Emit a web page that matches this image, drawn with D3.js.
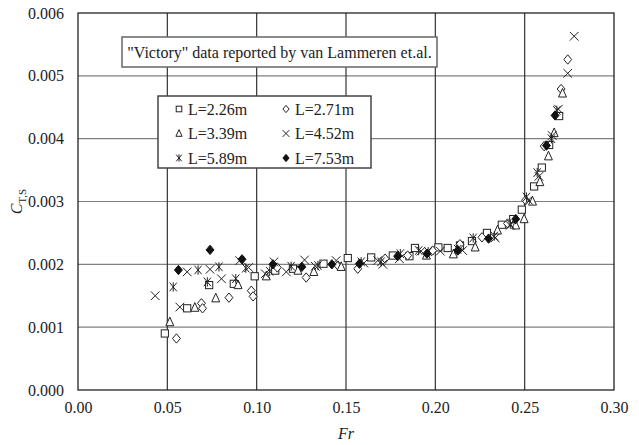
<!DOCTYPE html>
<html>
<head>
<meta charset="utf-8">
<script src="https://cdn.jsdelivr.net/npm/d3@7"></script>
<style>
  body { margin: 0; background: #fff; }
</style>
</head>
<body>
<div class="chart"></div>
<script>
// values (Fr, C_T,S)
var fr226 = [0.0486,0.0611,0.0734,0.0872,0.0989,0.1104,0.1203,0.1374,0.151,0.1641,0.1762,0.1855,0.1886,0.2017,0.2069,0.2138,0.2205,0.2289,0.2372,0.2436,0.2484,0.2553,0.2596,0.2637,0.2693];
var ct226 = [0.00090,0.00130,0.00167,0.00169,0.00181,0.00190,0.00193,0.00201,0.00210,0.00211,0.00214,0.00213,0.00226,0.00227,0.00226,0.00230,0.00237,0.00250,0.00263,0.00272,0.00287,0.00324,0.00354,0.00390,0.00436];

var fr271 = [0.0551,0.0691,0.0697,0.0845,0.097,0.098,0.1115,0.1277,0.1455,0.1566,0.1719,0.1845,0.1985,0.2138,0.2261,0.2404,0.2505,0.2609,0.2704,0.2741];
var ct271 = [0.00082,0.00138,0.00130,0.00147,0.00158,0.00149,0.00195,0.00179,0.00198,0.00193,0.00209,0.00214,0.00222,0.00232,0.00243,0.00265,0.00302,0.00388,0.00479,0.00526];

var fr339 = [0.0514,0.0654,0.0771,0.0896,0.1054,0.1231,0.1320,0.1473,0.1950,0.2101,0.2223,0.2348,0.245,0.2497,0.2544,0.2585,0.2633,0.2665,0.2712];
var ct339 = [0.00108,0.00131,0.00146,0.00167,0.00181,0.00190,0.00188,0.00196,0.00214,0.00216,0.00227,0.00254,0.00262,0.00272,0.00300,0.00331,0.00372,0.00409,0.00472];

var fr452 = [0.0432,0.0570,0.0611,0.0739,0.0803,0.0905,0.0955,0.1048,0.1097,0.1166,0.1268,0.1328,0.1445,0.1600,0.1678,0.1706,0.1799,0.1920,0.2028,0.2153,0.2335,0.2418,0.2521,0.2580,0.2654,0.2689,0.2741,0.2777];
var ct452 = [0.00150,0.00132,0.00188,0.00192,0.00177,0.00206,0.00195,0.00185,0.00204,0.00188,0.00207,0.00197,0.00206,0.00202,0.00206,0.00200,0.00209,0.00221,0.00221,0.00222,0.00242,0.00262,0.00302,0.00340,0.00405,0.00447,0.00504,0.00563];

var fr589 = [0.0533,0.0672,0.0724,0.0789,0.0883,0.0939,0.1073,0.1193,0.1343,0.1585,0.1696,0.1804,0.1907,0.1960,0.2125,0.2212,0.2330,0.2420,0.2510,0.2570,0.2650,0.2680];
var ct589 = [0.00164,0.00191,0.00172,0.00196,0.00177,0.00194,0.00189,0.00197,0.00198,0.00204,0.00204,0.00217,0.00222,0.00220,0.00224,0.00242,0.00245,0.00264,0.00307,0.00346,0.00400,0.00445];

var fr753 = [0.0562,0.0739,0.0918,0.1091,0.1253,0.1421,0.1575,0.1789,0.1953,0.2125,0.2298,0.2450,0.2622,0.2670];
var ct753 = [0.00191,0.00223,0.00208,0.00200,0.00196,0.00200,0.00201,0.00213,0.00217,0.00222,0.00241,0.00272,0.00389,0.00437];

var seriesNames = ["L=2.26m","L=2.71m","L=3.39m","L=4.52m","L=5.89m","L=7.53m"];
var xTicks = [0,0.05,0.10,0.15,0.20,0.25,0.30];
var yTicks = [0,0.001,0.002,0.003,0.004,0.005,0.006];
var titleText = "\"Victory\" data reported by van Lammeren et.al.";

function drawChart() {
  var w = 639, h = 445;
  var padL = 78, padR = 614, padT = 13, padB = 390;
  var serif = "Liberation Serif";

  var svg = d3.select(".chart").append("svg")
      .attr("width", w)
      .attr("height", h);

  var xScale = d3.scaleLinear().domain([0, 0.30]).range([padL, padR]);
  var yScale = d3.scaleLinear().domain([0, 0.006]).range([padB, padT]);

  // grid
  svg.append("g").selectAll("line").data(yTicks.slice(1, -1)).enter().append("line")
      .attr("x1", padL).attr("x2", padR)
      .attr("y1", d => yScale(d)).attr("y2", d => yScale(d))
      .attr("stroke", "#808080").attr("stroke-width", 1.2);
  svg.append("g").selectAll("line").data(xTicks.slice(1, -1)).enter().append("line")
      .attr("y1", padT).attr("y2", padB)
      .attr("x1", d => xScale(d)).attr("x2", d => xScale(d))
      .attr("stroke", "#333").attr("stroke-width", 1.2);

  // axes
  var xAxis = d3.axisBottom(xScale).tickValues(xTicks).tickFormat(d3.format(".2f")).tickSize(0).tickPadding(12);
  var yAxis = d3.axisLeft(yScale).tickValues(yTicks).tickFormat(d3.format(".3f")).tickSize(0).tickPadding(14);
  svg.append("g").attr("transform", `translate(0,${padB})`).call(xAxis)
    .call(g => { g.select(".domain").remove(); g.selectAll("text").style("font-family", serif).style("font-size", "16px").attr("fill", "#222"); });
  svg.append("g").attr("transform", `translate(${padL},0)`).call(yAxis)
    .call(g => { g.select(".domain").remove(); g.selectAll("text").style("font-family", serif).style("font-size", "16px").attr("fill", "#222"); });

  svg.append("rect")
      .attr("x", padL).attr("y", padT)
      .attr("width", padR - padL).attr("height", padB - padT)
      .attr("fill", "none").attr("stroke", "#111").attr("stroke-width", 1.2);

  // axis titles
  svg.append("text")
      .attr("x", xScale(0.15)).attr("y", 439)
      .attr("text-anchor", "middle").attr("fill", "#222")
      .style("font-family", serif).style("font-size", "16px").style("font-style", "italic")
      .text("Fr");
  var yl = svg.append("text")
      .attr("transform", `translate(22,${yScale(0.003)}) rotate(-90)`)
      .attr("text-anchor", "middle").attr("fill", "#222")
      .style("font-family", serif).style("font-size", "16px");
  yl.append("tspan").style("font-style", "italic").text("C");
  yl.append("tspan").attr("dy", 4).style("font-size", "11px").text("T,S");

  // markers
  var symbols = {
    "L=2.26m": function(g, s) { g.append("rect").attr("x", -s).attr("y", -s).attr("width", 2*s).attr("height", 2*s).attr("fill", "#fff").attr("stroke", "#222"); },
    "L=2.71m": function(g, s) { g.append("path").attr("d", `M0,${-s*1.3}L${s*1.1},0L0,${s*1.3}L${-s*1.1},0Z`).attr("fill", "#fff").attr("stroke", "#222"); },
    "L=3.39m": function(g, s) { g.append("path").attr("d", `M0,${-s*1.4}L${s*1.1},${s}L${-s*1.1},${s}Z`).attr("fill", "#fff").attr("stroke", "#222"); },
    "L=4.52m": function(g, s) { g.append("path").attr("d", `M${-s*1.2},${-s*1.2}L${s*1.2},${s*1.2}M${s*1.2},${-s*1.2}L${-s*1.2},${s*1.2}`).attr("fill", "none").attr("stroke", "#222"); },
    "L=5.89m": function(g, s) { g.append("path").attr("d", `M${-s},${-s*1.2}L${s},${s*1.2}M${s},${-s*1.2}L${-s},${s*1.2}M0,${-s*1.3}L0,${s*1.3}`).attr("fill", "none").attr("stroke", "#222"); },
    "L=7.53m": function(g, s) { g.append("path").attr("d", `M0,${-s*1.3}L${s*1.1},0L0,${s*1.3}L${-s*1.1},0Z`).attr("fill", "#111").attr("stroke", "#111"); }
  };

  var data = [
    [seriesNames[0], fr226, ct226],
    [seriesNames[1], fr271, ct271],
    [seriesNames[2], fr339, ct339],
    [seriesNames[3], fr452, ct452],
    [seriesNames[4], fr589, ct589],
    [seriesNames[5], fr753, ct753]
  ];

  data.forEach(function(sr) {
    var pts = sr[1].map((f, i) => ({fr: f, ct: sr[2][i]}));
    svg.append("g").selectAll("g").data(pts).enter().append("g")
      .attr("transform", d => `translate(${xScale(d.fr)},${yScale(d.ct)})`)
      .each(function() { symbols[sr[0]](d3.select(this), 3.6); })
      .selectAll("*").attr("stroke-width", 1);
  });

  // title box
  svg.append("rect")
      .attr("x", 122).attr("y", 37).attr("width", 315).attr("height", 30)
      .attr("fill", "#fff").attr("stroke", "#666").attr("stroke-width", 1.5);
  svg.append("text")
      .attr("x", 279.5).attr("y", 57.5)
      .attr("text-anchor", "middle").attr("fill", "#222")
      .style("font-family", serif).style("font-size", "16px")
      .text(titleText);

  // legend
  var lg = svg.append("g").attr("class", "gLegend");
  lg.append("rect")
      .attr("x", 158).attr("y", 96).attr("width", 213).attr("height", 72)
      .attr("fill", "#fff").attr("stroke", "#444").attr("stroke-width", 1.5);
  var legend = lg.selectAll(".legend").data(seriesNames).enter().append("g")
      .attr("class", "legend")
      .attr("transform", (d, i) => `translate(${i % 2 ? 286 : 179},${109 + Math.floor(i / 2) * 24.5})`);
  legend.each(function(d) { symbols[d](d3.select(this), 2.8); });
  legend.selectAll("*").attr("stroke-width", 1);
  legend.append("text")
      .attr("x", 9).attr("y", 5.5).attr("fill", "#222")
      .style("font-family", serif).style("font-size", "16px")
      .text(d => d);
}

drawChart();
</script>
</body>
</html>
